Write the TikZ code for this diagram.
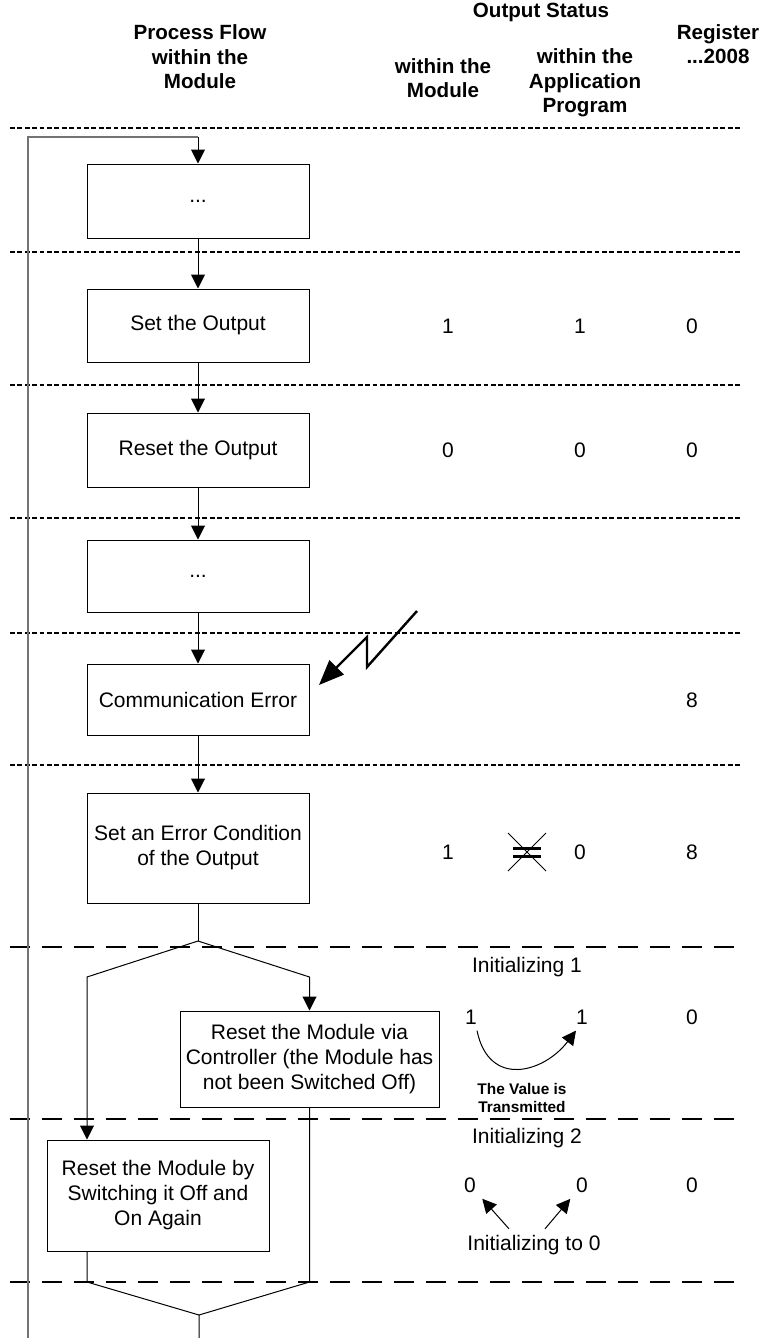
\documentclass[tikz,border=0pt]{standalone}
\usepackage{fontspec}
\setmainfont{Liberation Sans}
\usepackage{tikz}
\usetikzlibrary{arrows.meta}

\begin{document}
\begin{tikzpicture}[
    x=0.5pt, y=-0.5pt,
    box/.style={rectangle, draw, line width=0.5pt, minimum width=111pt, minimum height=37pt, inner sep=0pt, align=center, font=\fontsize{10.5}{12.5}\selectfont},
    head/.style={align=center, inner sep=0pt, font=\fontsize{10.3}{12.2}\selectfont\bfseries},
    val/.style={inner sep=3pt, font=\fontsize{10.5}{12.5}\selectfont},
    note/.style={align=center, inner sep=0pt, font=\fontsize{7.7}{9}\selectfont\bfseries},
    arrow/.style={-{Triangle[length=7pt, width=7pt]}, line width=0.5pt},
    flow/.style={line width=0.5pt},
    rowsep/.style={dash pattern=on 2.4pt off 1.3pt, line width=0.65pt},
    blocksep/.style={dash pattern=on 10pt off 6pt, line width=1pt},
    loopline/.style={line width=0.8pt, draw=black!55},
    bolt/.style={-{Triangle[length=12.5pt, width=10pt]}, line width=1.2pt},
]
\useasboundingbox (0,0) rectangle (760,1338);

% === HEADER ===
\node[head] (h_flow) at (200,57) {Process Flow\\within the\\Module};
\node[head] (h_status) at (541,12) {Output Status};
\node[head] (h_mod) at (443,78) {within the\\Module};
\node[head] (h_app) at (585,83) {within the\\Application\\Program};
\node[head] (h_reg) at (718,44) {Register\\...2008};

% === SEPARATORS ===
\draw[rowsep] (10,128) -- (740,128);
\draw[rowsep] (10,252) -- (740,252);
\draw[rowsep] (10,385) -- (740,385);
\draw[rowsep] (10,518) -- (740,518);
\draw[rowsep] (10,633) -- (740,633);
\draw[rowsep] (10,765) -- (740,765);
\draw[blocksep] (10,947) -- (745,947);
\draw[blocksep] (10,1119) -- (745,1119);
\draw[blocksep] (10,1282) -- (745,1282);

% === PROCESS FLOW ===
\node[box] (dots1) at (198,201) {...};
\node[box, minimum height=36.5pt] (set) at (198,325.5) {Set the Output};
\node[box] (reset) at (198,450) {Reset the Output};
\node[box, minimum height=36pt] (dots2) at (198,576) {...};
\node[box, minimum height=35.5pt] (commerr) at (198,699.5) {Communication Error};
\node[box, minimum height=55pt] (errcond) at (198,848) {Set an Error Condition\\of the Output};
\node[box, minimum width=129.5pt, minimum height=48pt] (viactrl) at (309.5,1059) {Reset the Module via\\Controller (the Module has\\not been Switched Off)};
\node[box, minimum height=55.5pt] (switchoff) at (158,1195.5) {Reset the Module by\\Switching it Off and\\On Again};

% === LOOP ===
\coordinate (loopbot) at (28,1338);
\coordinate (looptop) at (198,137);
\draw[loopline] (loopbot) |- (looptop);
\draw[arrow] (looptop) -- (dots1.north);

% === ARROWS ===
\draw[arrow] (dots1) -- (set);
\draw[arrow] (set) -- (reset);
\draw[arrow] (reset) -- (dots2);
\draw[arrow] (dots2) -- (commerr);
\draw[arrow] (commerr) -- (errcond);

% === BRANCH ===
\coordinate (split) at (198,941);
\coordinate (splitL) at (87,977);
\coordinate (splitR) at (309.5,977);
\draw[flow] (errcond) -- (split);
\draw[arrow] (split) -- (splitL) -- (splitL |- switchoff.north);
\draw[arrow] (split) -- (splitR) -- (viactrl);

% === MERGE ===
\coordinate (mergeL) at (87,1282);
\coordinate (mergeR) at (309.5,1282);
\coordinate (merge) at (199,1315);
\coordinate (exit) at (199,1338);
\draw[flow] (switchoff.south -| mergeL) -- (mergeL) -- (merge) -- (exit);
\draw[flow] (viactrl) -- (mergeR) -- (merge);

% === COMMUNICATION FAULT ===
\coordinate (bolt1) at (417,611);
\coordinate (bolt2) at (367,667);
\coordinate (bolt3) at (367,637);
\coordinate (bolttip) at (319,685);
\draw[bolt] (bolt1) -- (bolt2) -- (bolt3) -- (bolttip);

% === OUTPUT STATUS ===
\node[val] (set_mod) at (448,326) {1};
\node[val] (set_app) at (580,326) {1};
\node[val] (set_reg) at (692,326) {0};

\node[val] (reset_mod) at (448,450) {0};
\node[val] (reset_app) at (580,450) {0};
\node[val] (reset_reg) at (692,450) {0};

\node[val] (comm_reg) at (692,700) {8};

\node[val] (err_mod) at (448,852) {1};
\node[val] (err_app) at (580,852) {0};
\node[val] (err_reg) at (692,852) {8};
\draw[line width=1.5pt] (513,848) -- (541,848);
\draw[line width=1.5pt] (513,856) -- (541,856);
\draw[line width=0.4pt] (508,833) -- (546,871);
\draw[line width=0.4pt] (546,833) -- (508,871);

% === INITIALIZING ===
\node[val] (init1) at (527,967) {Initializing 1};
\node[val] (i1_mod) at (471,1017) {1};
\node[val] (i1_app) at (582,1017) {1};
\node[val] (i1_reg) at (692,1017) {0};
\draw[arrow] ([xshift=3pt]i1_mod.south) .. controls +(12,58) and +(-32,42) .. ([xshift=-3pt]i1_app.south);
\node[note] (transmit) at (522,1098) {The Value is\\Transmitted};

\node[val] (init2) at (527,1138) {Initializing 2};
\node[val] (i2_mod) at (470,1185) {0};
\node[val] (i2_app) at (582,1185) {0};
\node[val] (i2_reg) at (692,1185) {0};
\node[val] (initzero) at (534,1245) {Initializing to 0};
\draw[arrow] ([xshift=-12.5pt]initzero.north) -- (i2_mod);
\draw[arrow] ([xshift=5.5pt]initzero.north) -- (i2_app);

\end{tikzpicture}
\end{document}
